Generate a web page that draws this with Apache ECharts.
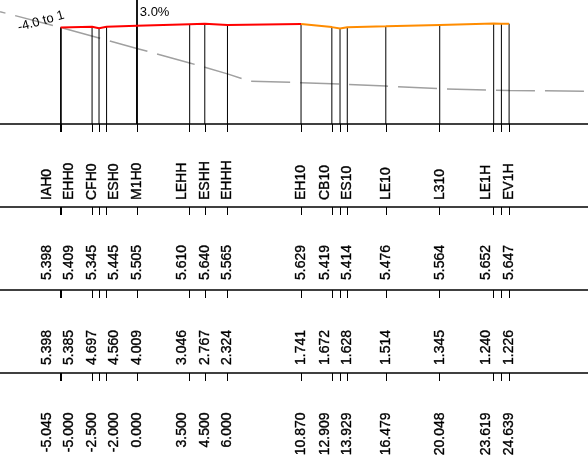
<!DOCTYPE html>
<html><head><meta charset="utf-8">
<script src="https://cdn.jsdelivr.net/npm/echarts@6/dist/echarts.min.js"></script>
<style>html,body{margin:0;padding:0;background:#fff}#c{width:588px;height:473px}</style>
</head><body><div id="c"></div>
<script>
// ---- data ----
var stationNames = ['IAH0','EHH0','CFH0','ESH0','M1H0','LEHH','ESHH','EHHH','EH10','CB10','ES10','LE10','L310','LE1H','EV1H'];
var chainage     = [-5.045,-5.000,-2.500,-2.000,0.000,3.500,4.500,6.000,10.870,12.909,13.929,16.479,20.048,23.619,24.639];
var levelTop     = [5.398,5.409,5.345,5.445,5.505,5.610,5.640,5.565,5.629,5.419,5.414,5.476,5.564,5.652,5.647];
var levelSecond  = [5.398,5.385,4.697,4.560,4.009,3.046,2.767,2.324,1.741,1.672,1.628,1.514,1.345,1.240,1.226];
var chainageText = ['-5.045','-5.000','-2.500','-2.000','0.000','3.500','4.500','6.000','10.870','12.909','13.929','16.479','20.048','23.619','24.639'];
// unlabelled break points on the profile
var breakChainage = [-2.96, 13.45, 24.13];
var breakLevel    = [5.44, 5.33, 5.65];
// grey dashed slope line
var greyChainage = [-9.05,-5.045,-5.000,-2.500,-2.000,0.000,3.500,4.500,6.000,7.500,10.870,12.909,13.929,16.479,20.048,23.619,24.639,29.86];
var greyLevel    = [6.44,5.398,5.385,4.697,4.560,4.009,3.046,2.767,2.324,1.84,1.741,1.672,1.628,1.514,1.345,1.240,1.226,1.18];
var colourSplitChainage = 10.870;
var refChainage = 0.000;
var annoText     = ['-4.0 to 1', '3.0%'];
var annoChainage = [-6.34, 0.0];
var annoLevel    = [5.80, 6.39];

// ---- helpers ----
var FONT = '"Liberation Sans", Arial, Helvetica, sans-serif';
var XMIN = -9.0536, XMAX = 29.861, YMIN = -0.9927, YMAX = 7.2138;
var tickValues = chainage.concat(breakChainage).sort(function(a,b){return a-b;});
var allPts = chainage.map(function(c,i){return [c, levelTop[i]];})
  .concat(breakChainage.map(function(c,i){return [c, breakLevel[i]];}))
  .sort(function(a,b){return a[0]-b[0];});
var redData = allPts.filter(function(p){return p[0] <= colourSplitChainage;});
var orangeData = allPts.filter(function(p){return p[0] >= colourSplitChainage;});
var greyData = greyChainage.map(function(c,i){return [c, greyLevel[i]];});

function layoutLabels(api){
  var px = chainage.map(function(c){return api.coord([c, 0.5])[0];});
  var g = 22.5, blocks = [];
  for (var i=0;i<px.length;i++){
    blocks.push({s:i,e:i,sum:px[i]-i*g,n:1});
    while (blocks.length>1){
      var b = blocks[blocks.length-1], a = blocks[blocks.length-2];
      if (b.sum/b.n < a.sum/a.n){ a.e=b.e; a.sum+=b.sum; a.n+=b.n; blocks.pop(); } else break;
    }
  }
  var q = [];
  blocks.forEach(function(b){ for (var i=b.s;i<=b.e;i++) q[i] = px[b.e]-(b.e-i)*g; });
  return q;
}

function bandSeries(gridIdx, texts, anchor, off){
  return {
    type:'custom', xAxisIndex:gridIdx, yAxisIndex:gridIdx, silent:true,
    data: chainage.map(function(c){return [c, 0.5];}),
    encode:{x:0,y:1},
    renderItem:function(params, api){
      var q = layoutLabels(api);
      var cs = params.coordSys;
      var y = anchor==='bottom' ? cs.y+cs.height-off : cs.y+off;
      return {type:'text', x:q[params.dataIndex], y:y, rotation:Math.PI/2,
        style:{text:texts[params.dataIndex], fill:'#000', stroke:'#000', lineWidth:0.35,
          fontSize:14, fontFamily:FONT,
          align: anchor==='bottom' ? 'left' : 'right', verticalAlign:'middle'}};
    }
  };
}

var grids = [
  {left:0,right:0,top:0,height:124},
  {left:0,right:0,top:124,height:83},
  {left:0,right:0,top:207,height:83},
  {left:0,right:0,top:290,height:83},
  {left:0,right:0,top:373,height:100}
];
var xAxes = [], yAxes = [];
grids.forEach(function(g,i){
  xAxes.push({type:'value', gridIndex:i, min:XMIN, max:XMAX, position: i===0?'bottom':'top',
    show: i!==0,
    axisLine:{show:true, onZero:false, lineStyle:{color:'#000', width:1.5}},
    axisTick:{show:true, inside:true, length:8, customValues:tickValues, lineStyle:{color:'#000', width:1}},
    axisLabel:{show:false}, splitLine:{show:false}});
  yAxes.push({type:'value', gridIndex:i, show:false, min: i===0?YMIN:0, max: i===0?YMAX:1, splitLine:{show:false}});
});

var secondText = levelSecond.map(function(v){return v.toFixed(3);});
var topText = levelTop.map(function(v){return v.toFixed(3);});

var chart = echarts.init(document.getElementById('c'), null, {renderer:'canvas'});
chart.setOption({
  animation:false,
  backgroundColor:'#fff',
  grid:grids, xAxis:xAxes, yAxis:yAxes,
  series:[
    {type:'custom', xAxisIndex:0, yAxisIndex:0, silent:true, z:2,
     data: allPts, encode:{x:0,y:1},
     renderItem:function(params, api){
       var p = api.coord([api.value(0), api.value(1)]);
       var cs = params.coordSys;
       return {type:'line', shape:{x1:p[0],y1:p[1],x2:p[0],y2:cs.y+cs.height},
         style:{stroke:'#000', lineWidth:1}};
     }},
    {type:'line', xAxisIndex:0, yAxisIndex:0, data:greyData, symbol:'none', silent:true, z:1,
     lineStyle:{color:'#a0a0a0', width:1.5, type:[39,10], dashOffset:33.4}},
    {type:'line', xAxisIndex:0, yAxisIndex:0, data:redData, symbol:'none', silent:true, z:5,
     lineStyle:{color:'#ff0000', width:2},
     markLine:{silent:true, symbol:['none','none'], label:{show:false},
       lineStyle:{color:'#000', width:1.8, type:'solid'}, data:[{xAxis:refChainage}]}},
    {type:'line', xAxisIndex:0, yAxisIndex:0, data:orangeData, symbol:'none', silent:true, z:5,
     lineStyle:{color:'#ff8c00', width:2}},
    {type:'custom', xAxisIndex:0, yAxisIndex:0, silent:true, z:6,
     data: annoChainage.map(function(c,i){return [c, annoLevel[i]];}), encode:{x:0,y:1},
     renderItem:function(params, api){
       var p = api.coord([api.value(0), api.value(1)]);
       var i = params.dataIndex;
       if (i===0){
         return {type:'text', x:p[0], y:p[1], rotation:Math.atan(0.2785),
           style:{text:annoText[i], fill:'#000', fontSize:13, fontFamily:FONT, align:'center', verticalAlign:'middle'}};
       }
       return {type:'text', x:p[0]+3, y:p[1],
         style:{text:annoText[i], fill:'#000', fontSize:13, fontFamily:FONT, align:'left', verticalAlign:'middle'}};
     }},
    bandSeries(1, stationNames, 'bottom', 7),
    bandSeries(2, topText, 'bottom', 10),
    bandSeries(3, secondText, 'bottom', 8),
    bandSeries(4, chainageText, 'top', 39.5)
  ]
});
</script></body></html>
